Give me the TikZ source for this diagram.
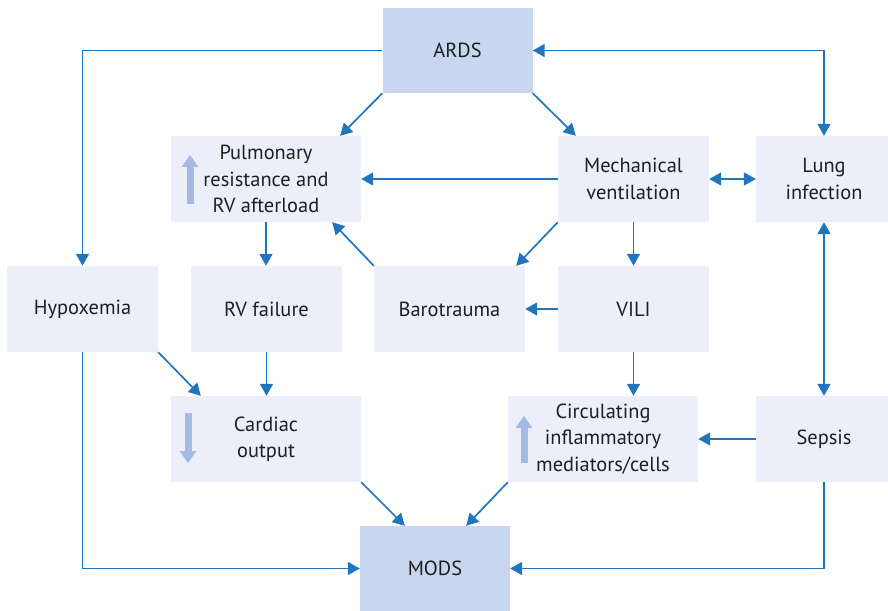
\documentclass[tikz,border=0pt]{standalone}
\usepackage{fontspec}
\setmainfont{PT Sans}
\usetikzlibrary{arrows.meta,calc}
\definecolor{arrowblue}{RGB}{33,117,189}
\definecolor{boxfill}{RGB}{236,239,250}
\definecolor{keyfill}{RGB}{200,214,240}
\definecolor{markblue}{RGB}{163,186,228}
\begin{document}
\begin{tikzpicture}[x=1bp,y=-1bp,
  box/.style={fill=boxfill, inner sep=0pt, minimum width=151bp, minimum height=86bp,
    align=center, font=\fontsize{20.5}{26.5}\selectfont, text=black!88},
  widebox/.style={box, minimum width=190bp},
  edgebox/.style={box, minimum width=136bp},
  keybox/.style={box, fill=keyfill, minimum width=150bp, minimum height=85bp},
  link/.style={draw=arrowblue, line width=1.7bp, -{Triangle[length=12bp,width=13bp]}},
  both/.style={link, {Triangle[length=12bp,width=13bp]}-{Triangle[length=12bp,width=13bp]}},
  trend/.style={draw=markblue, line width=7bp, -{Triangle[length=12bp,width=16bp]}}
]
\useasboundingbox (0,0) rectangle (888,611);

% boxes
\node[keybox]  (ards)   at (457.5,50.5) {ARDS};
\node[widebox] (pulm)   at (266,179)    {Pulmonary\\resistance and\\RV afterload};
\node[box]     (mech)   at (633.5,179)  {Mechanical\\ventilation};
\node[edgebox] (lung)   at (824,179)    {Lung\\infection};
\node[box]     (hypo)   at (82.5,309)   {Hypoxemia};
\node[box]     (rvf)    at (266.5,309)  {RV failure};
\node[box]     (baro)   at (449.5,309)  {Barotrauma};
\node[box]     (vili)   at (633.5,309)  {VILI};
\node[widebox] (card)   at (266,439)    {Cardiac\\output};
\node[widebox] (circ)   at (603,439)    {Circulating\\inflammatory\\mediators/cells};
\node[edgebox] (sepsis) at (824,439)    {Sepsis};
\node[keybox]  (mods)   at (435,568.5)  {MODS};

% increase / decrease markers
\draw[trend] ($(pulm.center)+(-76,25)$) -- ($(pulm.center)+(-76,-24)$);
\draw[trend] ($(card.center)+(-78,-26)$) -- ($(card.center)+(-78,24)$);
\draw[trend] ($(circ.center)+(-79,24)$) -- ($(circ.center)+(-79,-23)$);

% connectors
\draw[link] (ards.west) -| (hypo.north);
\draw[both] (ards.east) -| (lung.north);
\draw[link] (ards.south west) -- ([xshift=-21bp]pulm.north east);
\draw[link] (ards.south east) -- ([xshift=18bp]mech.north west);
\draw[link] (mech.west) -- (pulm.east);
\draw[both] (mech.east) -- (lung.west);
\draw[link] (mech.south west) -- ([xshift=-9bp]baro.north east);
\draw[link] (mech.south) -- (mech.south |- vili.north);
\draw[link] (baro.north west) -- ([xshift=-29bp]pulm.south east);
\draw[link] (pulm.south) -- (pulm.south |- rvf.north);
\draw[link] (vili.west) -- (baro.east);
\draw[link] (hypo.south east) -- ([xshift=30bp]card.north west);
\draw[link] (rvf.south) -- (rvf.south |- card.north);
\draw[link] (vili.south) -- (vili.south |- circ.north);
\draw[both] (lung.south) -- (sepsis.north);
\draw[link] (sepsis.west) -- (circ.east);
\draw[link] (card.south east) -- ([xshift=45bp]mods.north west);
\draw[link] (circ.south west) -- ([xshift=-44bp]mods.north east);
\draw[link] (hypo.south) |- (mods.west);
\draw[link] (sepsis.south) |- (mods.east);
\end{tikzpicture}
\end{document}
